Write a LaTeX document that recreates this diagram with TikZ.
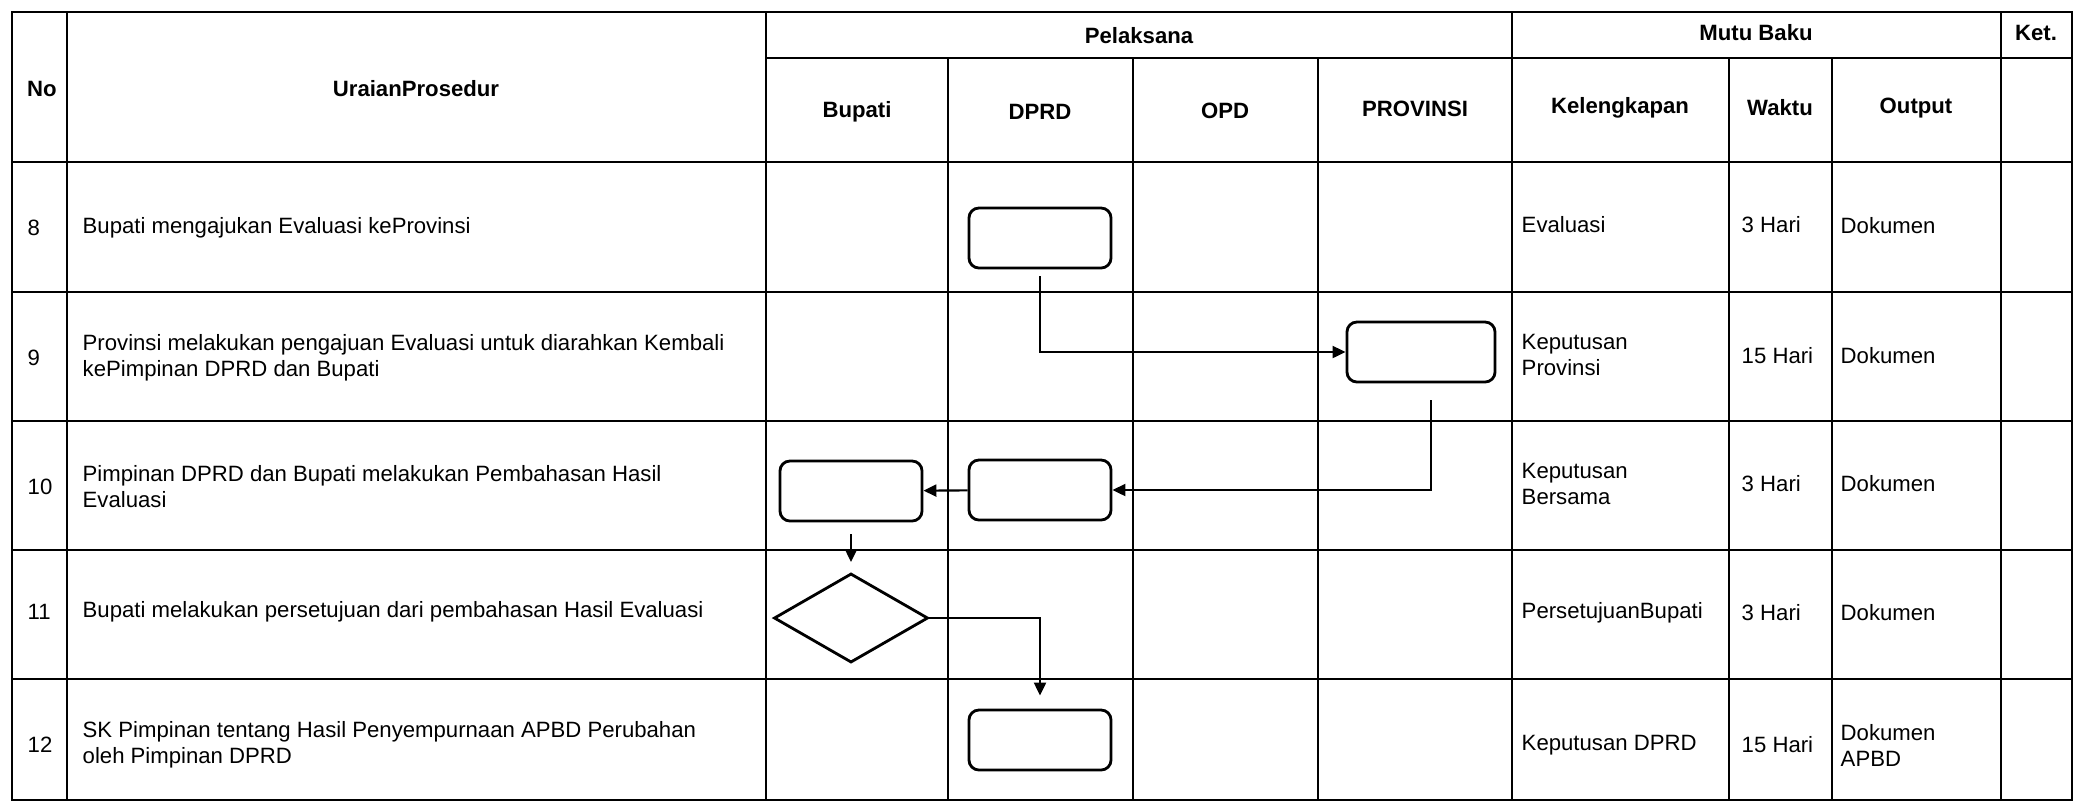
\documentclass[tikz,border=0pt]{standalone}
\usepackage{fontspec}
\setmainfont{Liberation Sans}
\usetikzlibrary{shapes.geometric, arrows.meta, positioning}

\begin{document}
\begin{tikzpicture}[
        x=0.01cm, y=-0.01cm,
        font=\fontsize{6.3}{7.4}\selectfont,
        grid/.style={semithick},
        head/.style={font=\fontsize{6.3}{7.4}\selectfont\bfseries, inner sep=0},
        cell/.style={anchor=west, align=left, inner sep=0},
        proc/.style={rectangle, draw, thick, rounded corners=1mm,
            minimum width=1.42cm, minimum height=0.6cm},
        decision/.style={diamond, draw, thick, inner sep=0,
            minimum width=1.54cm, minimum height=0.89cm},
        arrow/.style={semithick,->,>={Triangle[length=1.3mm,width=1.2mm]}}
    ]
        \useasboundingbox (0,0) rectangle (2082,808);

        % table frame and lines
        \draw[grid] (12,12) rectangle (2072,800);
        \draw[grid] (766,58) -- (2072,58);
        \draw[grid] (12,162) -- (2072,162);
        \draw[grid] (12,292) -- (2072,292);
        \draw[grid] (12,421) -- (2072,421);
        \draw[grid] (12,550) -- (2072,550);
        \draw[grid] (12,679) -- (2072,679);
        \draw[grid] (67,12) -- (67,800);
        \draw[grid] (766,12) -- (766,800);
        \draw[grid] (948,58) -- (948,800);
        \draw[grid] (1133,58) -- (1133,800);
        \draw[grid] (1318,58) -- (1318,800);
        \draw[grid] (1512,12) -- (1512,800);
        \draw[grid] (1729,58) -- (1729,800);
        \draw[grid] (1832,58) -- (1832,800);
        \draw[grid] (2001,12) -- (2001,800);

        % header
        \node[head] (hno) at (42,89) {No};
        \node[head] (hurai) at (416,89) {UraianProsedur};
        \node[head] (hpel) at (1139,36) {Pelaksana};
        \node[head] (hmutu) at (1756,33) {Mutu Baku};
        \node[head] (hket) at (2036,33) {Ket.};
        \node[head] (hbup) at (857,112) {Bupati};
        \node[head] (hdprd) at (1040,112) {DPRD};
        \node[head] (hopd) at (1225,111) {OPD};
        \node[head] (hprov) at (1415,109) {PROVINSI};
        \node[head] (hkel) at (1620,108) {Kelengkapan};
        \node[head] (hwak) at (1780,108) {Waktu};
        \node[head] (hout) at (1916,108) {Output};

        % rows
        \node[cell] (no8) at (27,228) {8};
        \node[cell] (ur8) at (82,228) {Bupati mengajukan Evaluasi keProvinsi};
        \node[cell] (kel8) at (1521,225) {Evaluasi};
        \node[cell] (wak8) at (1741,225) {3 Hari};
        \node[cell] (out8) at (1840,226) {Dokumen};

        \node[cell] (no9) at (27,358) {9};
        \node[cell] (ur9) at (82,358) {Provinsi melakukan pengajuan Evaluasi untuk diarahkan Kembali\\kePimpinan DPRD dan Bupati};
        \node[cell] (kel9) at (1521,355) {Keputusan\\Provinsi};
        \node[cell] (wak9) at (1741,356) {15 Hari};
        \node[cell] (out9) at (1840,356) {Dokumen};

        \node[cell] (no10) at (27,487) {10};
        \node[cell] (ur10) at (82,487) {Pimpinan DPRD dan Bupati melakukan Pembahasan Hasil\\Evaluasi};
        \node[cell] (kel10) at (1521,484) {Keputusan\\Bersama};
        \node[cell] (wak10) at (1741,484) {3 Hari};
        \node[cell] (out10) at (1840,484) {Dokumen};

        \node[cell] (no11) at (27,612) {11};
        \node[cell] (ur11) at (82,612) {Bupati melakukan persetujuan dari pembahasan Hasil Evaluasi};
        \node[cell] (kel11) at (1521,613) {PersetujuanBupati};
        \node[cell] (wak11) at (1741,613) {3 Hari};
        \node[cell] (out11) at (1840,613) {Dokumen};

        \node[cell] (no12) at (27,745) {12};
        \node[cell] (ur12) at (82,745) {SK Pimpinan tentang Hasil Penyempurnaan APBD Perubahan\\oleh Pimpinan DPRD};
        \node[cell] (kel12) at (1521,745) {Keputusan DPRD};
        \node[cell] (wak12) at (1741,745) {15 Hari};
        \node[cell] (out12) at (1840,745) {Dokumen\\APBD};

        % flow
        \node[proc] (dprd8) at (1040,238) {};
        \node[proc, minimum width=1.48cm] (prov9) at (1421,352) {};
        \node[proc] (dprd10) at (1040,490) {};
        \node[proc] (bup10) at (851,491) {};
        \node[decision] (dec11) at (851,618) {};
        \node[proc] (dprd12) at (1040,740) {};

        \draw[arrow, shorten <=0.7mm] (dprd8) |- (prov9);
        \draw[arrow, shorten <=1.7mm] ([xshift=1mm]prov9.south) |- (dprd10);
        \draw[arrow] (dprd10) -- (bup10);
        \draw[arrow, shorten <=1.2mm, shorten >=1mm] (bup10) -- (dec11);
        \draw[arrow, shorten >=1.3mm] (dec11) -| (dprd12);
    \end{tikzpicture}
\end{document}
